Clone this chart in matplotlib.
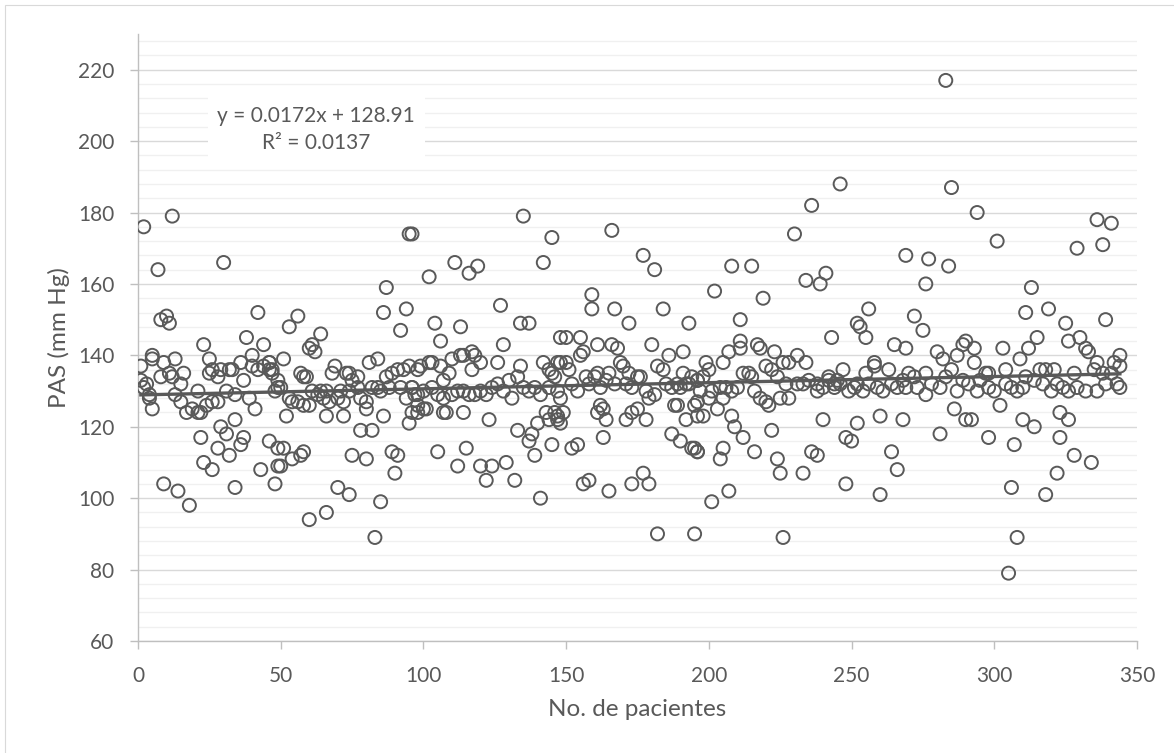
import matplotlib
matplotlib.use("Agg")
import matplotlib.pyplot as plt
from matplotlib.patches import Rectangle
from matplotlib.ticker import MultipleLocator

plt.rcParams['font.family'] = ['Lato', 'DejaVu Sans']

# Patient number and systolic pressure (PAS, mm Hg), grouped in blocks of patients
patients_a = [2, 12, 7, 30, 8, 10, 11, 42, 23, 38, 44, 22, 23, 26, 29, 31, 34, 37, 36, 28, 32, 9, 14, 18, 34, 43, 46, 49, 49, 48,
              5, 5, 13, 25, 36, 40, 46, 1, 9, 11, 12, 16, 26, 29, 32, 33, 37, 40, 42, 44, 46, 47, 25, 1, 3, 2, 8, 15, 28, 31,
              21, 34, 49, 4, 4, 5, 13, 15, 17, 19, 21, 22, 24, 26, 28, 39, 41]
pas_a = [176, 179, 164, 166, 150, 151, 149, 152, 143, 145, 143, 117, 110, 108, 120, 118, 122, 117, 115, 114, 112, 104, 102, 98, 103, 108, 116, 114, 109, 104,
         140, 139, 139, 139, 138, 140, 138, 137, 138, 135, 134, 135, 136, 136, 136, 136, 133, 137, 136, 137, 136, 135, 135, 133, 132, 131, 134, 132, 134, 130,
         130, 129, 131, 129, 128, 125, 129, 127, 124, 125, 124, 124, 126, 127, 127, 128, 125]

patients_b = [95, 96, 87, 86, 94, 92, 56, 53, 64, 61, 60, 62, 52, 66, 72, 86, 95, 78, 82, 51, 50, 54, 57, 58, 75, 80, 89, 91, 90, 70, 74, 66, 60, 85, 83,
              46, 47, 51, 49, 50, 48, 53, 54, 56, 57, 58, 59, 58, 60, 61, 63, 64, 65, 66, 68, 69, 67, 70, 71, 72, 73, 74, 75, 77, 74, 77, 78,
              80, 80, 81, 84, 82, 84, 85, 87, 89, 88, 92, 91, 93, 95, 98, 96, 97, 94, 98, 96]
pas_b = [174, 174, 159, 152, 153, 147, 151, 148, 146, 143, 142, 141, 123, 123, 123, 123, 121, 119, 119, 114, 109, 111, 112, 113, 112, 111, 113, 112, 107, 103, 101, 96, 94, 99, 89,
         138, 136, 139, 133, 131, 130, 128, 127, 127, 135, 134, 134, 126, 126, 130, 129, 130, 128, 130, 135, 137, 127, 128, 130, 127, 135, 135, 133, 134, 130, 131, 128,
         127, 125, 138, 139, 131, 131, 130, 134, 135, 131, 131, 136, 136, 137, 136, 131, 129, 128, 126, 124]

patients_c = [135, 145, 142, 111, 116, 119, 102, 127, 104, 113, 134, 137, 106, 128, 148, 98, 100, 101, 107, 108, 114, 123, 133, 137, 138, 140, 143, 144, 147, 145,
              139, 105, 115, 112, 120, 124, 129, 122, 132, 141,
              99, 102, 103, 106, 109, 107, 110, 113, 114, 117, 118, 120, 117, 96, 98, 100, 103, 105, 107, 110, 112, 114, 116, 118, 120, 122, 124,
              126, 126, 128, 130, 133, 131, 134, 135, 137, 139, 141, 142, 144, 145, 147, 144, 147, 148]
pas_c = [179, 173, 166, 166, 163, 165, 162, 154, 149, 148, 149, 149, 144, 143, 145, 124, 125, 125, 124, 124, 124, 122, 119, 116, 118, 121, 124, 122, 122, 115,
         112, 113, 114, 109, 109, 109, 110, 105, 105, 100,
         137, 138, 138, 137, 135, 133, 139, 140, 140, 141, 140, 138, 136, 131, 129, 130, 131, 129, 128, 129, 130, 130, 129, 129, 130, 129, 131,
         138, 132, 130, 133, 134, 128, 137, 131, 130, 131, 129, 138, 136, 135, 138, 131, 130, 128]

patients_d = [166, 177, 181, 159, 159, 167, 184, 172, 193, 150, 155, 161, 166, 180, 191, 146, 147, 149, 148, 161, 163, 164, 162, 171, 173, 175, 178, 188, 189, 192,
              196, 195, 163, 152, 154, 187, 190, 194, 196, 156, 158, 165, 173, 177, 179, 182, 195,
              146, 148, 150, 151, 152, 154, 155, 156, 157, 158, 160, 161, 162, 164, 165, 167, 168, 169, 170, 171, 172, 173, 175, 176, 178, 179,
              181, 182, 184, 185, 186, 187, 189, 190, 191, 192, 194, 196, 197]
pas_d = [175, 168, 164, 157, 153, 153, 153, 149, 149, 145, 145, 143, 143, 143, 141, 124, 123, 124, 121, 124, 125, 122, 126, 122, 124, 125, 122, 126, 126, 122,
         123, 126, 117, 114, 115, 118, 116, 114, 113, 104, 105, 102, 104, 107, 104, 90, 90,
         134, 138, 138, 136, 132, 130, 140, 141, 134, 132, 134, 135, 131, 133, 135, 132, 142, 138, 137, 132, 135, 131, 134, 134, 130, 128,
         129, 137, 136, 132, 140, 131, 132, 131, 135, 132, 134, 133, 130]

patients_e = [246, 236, 230, 208, 215, 202, 234, 239, 241, 219, 211, 243, 211, 211, 217, 218, 198, 208, 209, 212, 222, 240, 195, 196, 205, 204, 216, 224, 225, 233,
              236, 238, 207, 201, 226,
              193, 196, 196, 198, 199, 200, 200, 201, 203, 204, 205, 205, 207, 206, 208, 210, 212, 214, 215, 216, 218, 220, 221, 220, 222, 224,
              223, 225, 226, 227, 228, 228, 231, 231, 234, 233, 235, 238, 238, 240, 242, 244, 245]
pas_e = [188, 182, 174, 165, 165, 158, 161, 160, 163, 156, 150, 145, 144, 142, 143, 142, 123, 123, 120, 117, 119, 122, 114, 113, 114, 111, 113, 111, 107, 107,
         113, 112, 102, 99, 89,
         132, 133, 127, 134, 138, 136, 128, 130, 125, 131, 128, 138, 141, 131, 130, 131, 135, 135, 134, 130, 128, 127, 126, 137, 136, 134,
         141, 128, 138, 132, 138, 128, 140, 132, 138, 132, 133, 132, 130, 131, 134, 132, 133]

patients_f = [283, 285, 294, 269, 277, 284, 276, 256, 272, 275, 252, 253, 255, 265, 269, 286, 260, 268, 252, 290, 292, 281, 248, 250, 264, 266, 248, 260,
              242, 244, 246, 247, 249, 251, 252, 254, 255, 256, 258, 258, 259, 261, 263, 264, 266, 268, 269, 270, 272, 273, 276, 276, 278,
              280, 282, 281, 283, 285, 287, 287, 289, 289, 290, 291, 293, 293, 294, 295]
pas_f = [217, 187, 180, 168, 167, 165, 160, 153, 151, 147, 149, 148, 145, 143, 142, 125, 123, 122, 121, 122, 122, 118, 117, 116, 113, 108, 104, 101,
         133, 131, 132, 136, 130, 131, 132, 130, 135, 132, 138, 137, 131, 130, 136, 132, 131, 133, 131, 135, 134, 131, 135, 129, 132,
         141, 139, 131, 134, 136, 140, 130, 143, 133, 144, 132, 142, 138, 130, 133]

patients_g = [301, 336, 341, 329, 338, 313, 311, 319, 339, 325, 315, 312, 326, 330, 303, 302, 298, 310, 314, 307, 323, 326, 323, 328, 334, 322, 318, 306, 308, 305,
              297, 298, 298, 300, 304, 304, 306, 309, 308, 310, 311, 314, 316, 317, 318, 320, 321, 322, 324, 326, 328, 329,
              332, 333, 332, 335, 336, 336, 338, 339, 341, 342, 344, 344, 343, 344]
pas_g = [172, 178, 177, 170, 171, 159, 152, 153, 150, 149, 145, 142, 144, 145, 142, 126, 117, 122, 120, 115, 124, 122, 117, 112, 110, 107, 101, 103, 89, 79,
         135, 135, 131, 130, 136, 132, 131, 139, 130, 131, 134, 133, 136, 132, 136, 130, 136, 132, 131, 130, 135, 131,
         142, 141, 130, 136, 138, 130, 135, 132, 135, 138, 140, 137, 132, 131]

patient_no = patients_a + patients_b + patients_c + patients_d + patients_e + patients_f + patients_g
pas_mmhg = pas_a + pas_b + pas_c + pas_d + pas_e + pas_f + pas_g

# Linear trend reported on the chart
trend_slope = 0.0172
trend_intercept = 128.91
trend_r2 = 0.0137
trend_x = [1, 344]

W, H = 1174, 753
fig = plt.figure(figsize=(W / 100, H / 100), dpi=100)
fig.patch.set_facecolor('white')
# chart-area frame (only its top and left edges fall inside the image)
fig.add_artist(Rectangle((5 / W, -5 / H), 1.0, 1.0, transform=fig.transFigure,
                         fill=False, edgecolor='#d9d9d9', linewidth=0.8))

ax = fig.add_axes([138 / W, (H - 641) / H, (1137 - 138) / W, (641 - 34) / H])
ax.set_xlim(0, 350)
ax.set_ylim(60, 230)
ax.xaxis.set_major_locator(MultipleLocator(50))
ax.yaxis.set_minor_locator(MultipleLocator(4))
ax.set_yticks(range(60, 221, 20))

ax.grid(axis='y', which='major', color='#d9d9d9', linewidth=1.0, zorder=0)
ax.grid(axis='y', which='minor', color='#f0f0f0', linewidth=1.0, zorder=0)
ax.grid(axis='x', visible=False)
ax.set_axisbelow(True)

for side in ('top', 'right'):
    ax.spines[side].set_visible(False)
for side in ('left', 'bottom'):
    ax.spines[side].set_color('#bfbfbf')
    ax.spines[side].set_linewidth(1.0)

ax.tick_params(axis='both', which='major', direction='out', length=6, width=1.0,
               color='#bfbfbf', labelcolor='#595959', labelsize=15)
ax.tick_params(axis='y', which='major', pad=11)
ax.tick_params(axis='x', which='major', pad=12)
ax.tick_params(axis='y', which='minor', length=0)

ax.scatter(patient_no, pas_mmhg, s=88, facecolors='none', edgecolors='#595959',
           linewidths=1.4, zorder=3)

trend_y = [trend_slope * x + trend_intercept for x in trend_x]
ax.plot(trend_x, trend_y, color='#595959', linewidth=2.4, zorder=4)

# Equation box
ax.add_patch(Rectangle((24.4, 193.5), 76.2, 20.4, facecolor='white', edgecolor='none', zorder=2))
ax.text(62.3, 207.0, f"y = {trend_slope}x + {trend_intercept}", ha='center', va='center',
        fontsize=15, color='#595959', zorder=5)
ax.text(62.3, 199.6, f"R² = {trend_r2}", ha='center', va='center',
        fontsize=15, color='#595959', zorder=5)

ax.set_xlabel('No. de pacientes', fontsize=17.5, color='#595959', labelpad=9)
ax.set_ylabel('PAS (mm Hg)', fontsize=17.5, color='#595959', labelpad=6)

fig.savefig('out.png', dpi=100)
